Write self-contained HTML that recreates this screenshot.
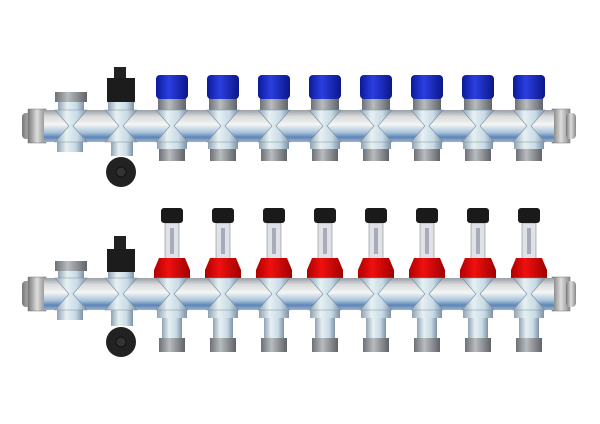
<!DOCTYPE html>
<html><head><meta charset="utf-8"><style>html,body{margin:0;padding:0;background:#fff}svg{display:block}</style></head>
<body>
<svg width="600" height="424" viewBox="0 0 600 424" xmlns="http://www.w3.org/2000/svg">
<defs>
<linearGradient id="bar" x1="0" y1="0" x2="0" y2="1">
<stop offset="0" stop-color="#9a9ea6"/><stop offset="0.2" stop-color="#d8dadc"/><stop offset="0.45" stop-color="#f4f6f4"/><stop offset="0.7" stop-color="#a9c3dc"/><stop offset="0.85" stop-color="#5d85b8"/><stop offset="1" stop-color="#9fb4cc"/>
</linearGradient>
<linearGradient id="fit" x1="0" y1="0" x2="1" y2="0">
<stop offset="0" stop-color="#8fa2b4"/><stop offset="0.35" stop-color="#e6f0f2"/><stop offset="0.7" stop-color="#c9dbe6"/><stop offset="1" stop-color="#7d92a8"/>
</linearGradient>
<linearGradient id="thr" x1="0" y1="0" x2="1" y2="0">
<stop offset="0" stop-color="#6d7175"/><stop offset="0.4" stop-color="#b8bcbf"/><stop offset="1" stop-color="#606468"/>
</linearGradient>
<linearGradient id="blue" x1="0" y1="0" x2="1" y2="0">
<stop offset="0" stop-color="#0a1a9a"/><stop offset="0.4" stop-color="#2b3fe0"/><stop offset="1" stop-color="#0a168a"/>
</linearGradient>
<linearGradient id="red" x1="0" y1="0" x2="1" y2="0">
<stop offset="0" stop-color="#b00000"/><stop offset="0.4" stop-color="#f01010"/><stop offset="1" stop-color="#a00000"/>
</linearGradient>
<linearGradient id="end" x1="0" y1="0" x2="1" y2="0">
<stop offset="0" stop-color="#777"/><stop offset="0.5" stop-color="#ddd"/><stop offset="1" stop-color="#888"/>
</linearGradient>
<g id="hg"><path d="M-16,0 L16,0 L2,16 L16,32 L-16,32 L-2,16 Z" fill="url(#fit)" stroke="#7d8fa0" stroke-width="0.6"/></g>
<g id="topport">
<rect x="-14" y="98" width="28" height="12" fill="url(#thr)"/>
<rect x="-16" y="75" width="32" height="24" rx="4" fill="url(#blue)"/>
<rect x="-15" y="142" width="30" height="7" fill="url(#fit)"/>
<rect x="-13" y="149" width="26" height="12" fill="url(#thr)"/>
</g>
<g id="botport">
<rect x="-7" y="223" width="14" height="36" fill="#dfe3e8" stroke="#888" stroke-width="0.6"/>
<rect x="-2" y="228" width="4" height="26" fill="#aab"/>
<rect x="-11" y="208" width="22" height="15" rx="3" fill="#1a1a1a"/>
<path d="M-13,258 L13,258 L18,270 L18,278 L-18,278 L-18,270 Z" fill="url(#red)"/>
<rect x="-15" y="310" width="30" height="8" fill="url(#fit)"/>
<rect x="-10" y="318" width="20" height="20" fill="url(#fit)"/>
<rect x="-13" y="338" width="26" height="14" fill="url(#thr)"/>
</g>
</defs>

<!-- TOP MANIFOLD -->
<rect x="22" y="113" width="24" height="26" rx="4" fill="url(#end)"/>
<rect x="28" y="109" width="18" height="34" fill="url(#end)" stroke="#777" stroke-width="0.5"/>
<rect x="552" y="109" width="18" height="34" fill="url(#end)" stroke="#777" stroke-width="0.5"/>
<rect x="566" y="113" width="10" height="26" rx="4" fill="url(#end)"/>
<rect x="44" y="110" width="510" height="32" fill="url(#bar)"/>
<!-- first threaded port -->
<rect x="55" y="92" width="32" height="10" fill="url(#thr)"/>
<rect x="58" y="102" width="26" height="8" fill="url(#fit)"/>
<rect x="57" y="142" width="26" height="10" fill="url(#fit)"/>
<!-- air vent -->
<rect x="114" y="67" width="12" height="12" fill="#222"/>
<rect x="107" y="78" width="28" height="24" fill="#1c1c1c"/>
<rect x="108" y="102" width="26" height="8" fill="url(#fit)"/>
<rect x="111" y="142" width="22" height="14" fill="url(#fit)"/>
<circle cx="121" cy="172" r="15" fill="#222"/>
<circle cx="121" cy="172" r="5" fill="#333" stroke="#111"/>
<use href="#topport" x="172"/><use href="#topport" x="223"/><use href="#topport" x="274"/><use href="#topport" x="325"/>
<use href="#topport" x="376"/><use href="#topport" x="427"/><use href="#topport" x="478"/><use href="#topport" x="529"/>
<g transform="translate(0,110)">
<use href="#hg" x="71"/><use href="#hg" x="121"/><use href="#hg" x="172"/><use href="#hg" x="223"/><use href="#hg" x="274"/>
<use href="#hg" x="325"/><use href="#hg" x="376"/><use href="#hg" x="427"/><use href="#hg" x="478"/><use href="#hg" x="529"/>
</g>

<!-- BOTTOM MANIFOLD -->
<rect x="22" y="281" width="24" height="26" rx="4" fill="url(#end)"/>
<rect x="28" y="277" width="18" height="34" fill="url(#end)" stroke="#777" stroke-width="0.5"/>
<rect x="552" y="277" width="18" height="34" fill="url(#end)" stroke="#777" stroke-width="0.5"/>
<rect x="566" y="281" width="10" height="26" rx="4" fill="url(#end)"/>
<rect x="44" y="278" width="510" height="32" fill="url(#bar)"/>
<rect x="55" y="261" width="32" height="10" fill="url(#thr)"/>
<rect x="58" y="271" width="26" height="8" fill="url(#fit)"/>
<rect x="57" y="310" width="26" height="10" fill="url(#fit)"/>
<rect x="114" y="236" width="12" height="14" fill="#222"/>
<rect x="107" y="249" width="28" height="23" fill="#1c1c1c"/>
<rect x="108" y="272" width="26" height="7" fill="url(#fit)"/>
<rect x="111" y="310" width="22" height="16" fill="url(#fit)"/>
<circle cx="121" cy="342" r="15" fill="#222"/>
<circle cx="121" cy="342" r="5" fill="#333" stroke="#111"/>
<use href="#botport" x="172"/><use href="#botport" x="223"/><use href="#botport" x="274"/><use href="#botport" x="325"/>
<use href="#botport" x="376"/><use href="#botport" x="427"/><use href="#botport" x="478"/><use href="#botport" x="529"/>
<g transform="translate(0,278)">
<use href="#hg" x="71"/><use href="#hg" x="121"/><use href="#hg" x="172"/><use href="#hg" x="223"/><use href="#hg" x="274"/>
<use href="#hg" x="325"/><use href="#hg" x="376"/><use href="#hg" x="427"/><use href="#hg" x="478"/><use href="#hg" x="529"/>
</g>
</svg>
</body></html>
